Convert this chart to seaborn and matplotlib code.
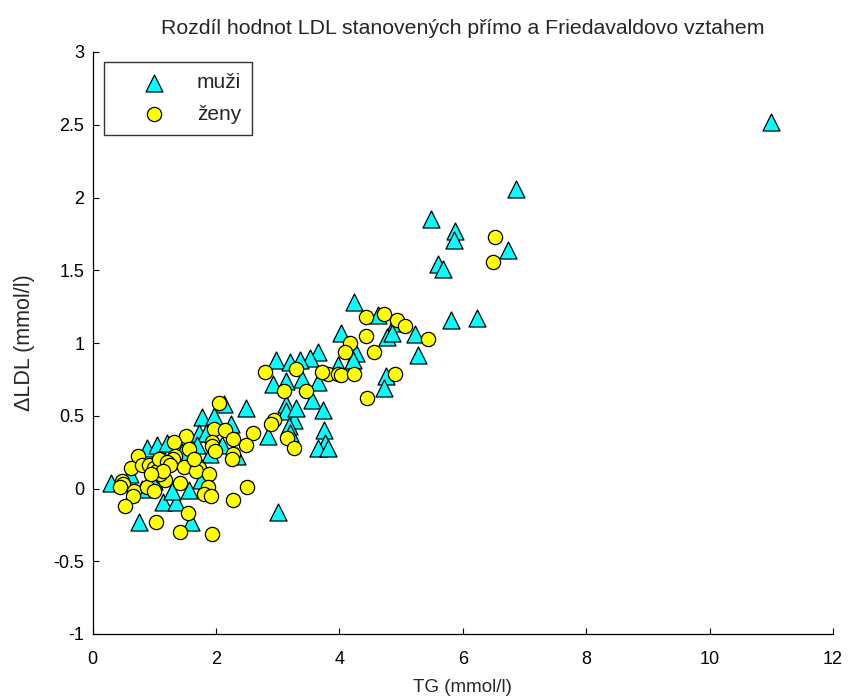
import matplotlib
matplotlib.use("Agg")
import matplotlib.pyplot as plt
import seaborn as sns
import pandas as pd

# ---- data ----
men_tg = [11.0, 6.87, 6.74, 5.49, 5.87, 5.86, 5.6, 5.68, 5.81, 6.23, 4.24, 4.62, 4.9, 4.03, 4.78,
          4.86, 5.22, 5.28, 4.27, 4.22, 3.98, 4.75, 4.73, 3.66, 3.53, 2.98, 3.2, 3.37, 2.92, 3.13,
          3.4, 3.66, 3.13, 3.56, 3.74, 2.13, 2.48, 1.78, 1.97, 2.24, 3.13, 3.26, 3.18, 2.85, 3.75,
          3.77, 3.66, 3.82, 1.72, 1.84, 2.34, 3.01, 0.3, 0.88, 1.05, 1.2, 0.75, 1.14, 1.36, 1.6,
          1.57, 1.76, 1.29, 0.81, 1.45, 1.6, 1.0, 0.6, 2.1, 3.3, 3.2, 1.7, 1.9]
men_dldl = [2.52, 2.06, 1.64, 1.85, 1.77, 1.71, 1.54, 1.51, 1.16, 1.17, 1.28, 1.19, 1.14, 1.07, 1.04,
            1.07, 1.06, 0.92, 0.93, 0.88, 0.85, 0.77, 0.69, 0.94, 0.9, 0.88, 0.87, 0.88, 0.72, 0.74,
            0.75, 0.73, 0.58, 0.61, 0.54, 0.58, 0.55, 0.49, 0.5, 0.44, 0.53, 0.47, 0.43, 0.36, 0.4,
            0.31, 0.28, 0.28, 0.38, 0.38, 0.22, -0.16, 0.04, 0.28, 0.3, 0.31, -0.23, -0.09, -0.09, -0.23,
            -0.01, 0.06, -0.02, 0.0, 0.25, 0.2, 0.05, 0.1, 0.3, 0.55, 0.38, 0.3, 0.24]

women_tg = [6.52, 6.49, 4.43, 4.73, 4.94, 5.06, 4.43, 5.44, 4.17, 4.09, 4.56, 3.82, 3.98, 4.03, 4.24,
            4.91, 4.45, 2.8, 3.3, 3.72, 3.1, 3.46, 2.05, 2.94, 2.9, 3.16, 3.27, 2.6, 2.48, 1.52,
            1.97, 2.15, 1.93, 1.94, 1.98, 2.28, 2.27, 2.26, 1.32, 1.57, 1.34, 1.3, 0.73, 0.63, 0.8,
            0.92, 1.0, 1.05, 1.12, 1.17, 1.08, 1.21, 1.25, 1.49, 1.7, 1.73, 1.68, 1.89, 1.65, 0.47,
            0.49, 0.44, 0.67, 0.65, 0.89, 1.0, 1.41, 1.87, 1.81, 1.92, 2.5, 2.27, 0.52, 1.03, 1.55,
            1.42, 1.94, 1.1, 1.15, 0.95]
women_dldl = [1.73, 1.56, 1.18, 1.2, 1.16, 1.12, 1.05, 1.03, 1.0, 0.94, 0.94, 0.79, 0.79, 0.78, 0.79,
              0.79, 0.62, 0.8, 0.82, 0.8, 0.67, 0.67, 0.59, 0.47, 0.44, 0.35, 0.28, 0.38, 0.3, 0.36,
              0.41, 0.4, 0.32, 0.29, 0.26, 0.34, 0.24, 0.2, 0.32, 0.27, 0.22, 0.2, 0.22, 0.14, 0.16,
              0.16, 0.14, 0.12, 0.08, 0.06, 0.2, 0.18, 0.16, 0.15, 0.16, 0.14, 0.12, 0.1, 0.2, 0.05,
              0.03, 0.01, -0.02, -0.05, 0.01, -0.02, 0.04, 0.01, -0.04, -0.05, 0.01, -0.08, -0.12, -0.23, -0.17,
              -0.3, -0.31, 0.1, 0.12, 0.1]

group_labels = ["muži", "ženy"]
x_ticks = [0, 2, 4, 6, 8, 10, 12]
y_ticks = [-1, -0.5, 0, 0.5, 1, 1.5, 2, 2.5, 3]
y_tick_labels = ["-1", "-0.5", "0", "0.5", "1", "1.5", "2", "2.5", "3"]

title_text = "Rozdíl hodnot LDL stanovených přímo a Friedavaldovo vztahem"
x_label = "TG (mmol/l)"
y_label = "ΔLDL (mmol/l)"

df_m = pd.DataFrame({"TG": men_tg, "dLDL": men_dldl})
df_w = pd.DataFrame({"TG": women_tg, "dLDL": women_dldl})

# ---- figure ----
sns.set_style("white")
plt.rcParams["font.family"] = ["Liberation Sans", "DejaVu Sans"]

fig = plt.figure(figsize=(8.49, 6.98), dpi=100)
ax = fig.add_axes([92.5 / 849, 1 - 634 / 698, 740.5 / 849, 582 / 698])

sns.scatterplot(data=df_m, x="TG", y="dLDL", ax=ax, marker="^", s=150, color="#00FFFF",
                edgecolor="black", linewidth=0.9, label=group_labels[0], zorder=3)
sns.scatterplot(data=df_w, x="TG", y="dLDL", ax=ax, marker="o", s=105, color="#FFFF00",
                edgecolor="black", linewidth=0.9, label=group_labels[1], zorder=4)

ax.set_xlim(0, 12)
ax.set_ylim(-1, 3)
ax.set_xticks(x_ticks)
ax.set_xticklabels([str(t) for t in x_ticks])
ax.set_yticks(y_ticks)
ax.set_yticklabels(y_tick_labels)
ax.tick_params(direction="in", length=4, width=0.8, labelsize=13, colors="black",
               bottom=True, left=True, top=False, right=False)
ax.tick_params(axis="x", pad=12)
ax.tick_params(axis="y", pad=6)

for side in ["top", "right"]:
    ax.spines[side].set_visible(False)
for side in ["left", "bottom"]:
    ax.spines[side].set_visible(True)
    ax.spines[side].set_color("black")
    ax.spines[side].set_linewidth(0.9)

ax.set_title(title_text, fontsize=15.3, pad=13)
ax.set_xlabel(x_label, fontsize=13.5, labelpad=8)
ax.set_ylabel(y_label, fontsize=15.5, labelpad=13)

leg = ax.legend(loc="upper left", bbox_to_anchor=(104 / 849, 1 - 62 / 698),
                bbox_transform=fig.transFigure, fontsize=15, frameon=True, fancybox=False,
                edgecolor="black", borderpad=0.55, labelspacing=0.59, handlelength=3.7,
                handletextpad=0.2, borderaxespad=0, markerscale=1.0)
leg.get_frame().set_linewidth(1.0)

fig.savefig("out.png", dpi=100)
